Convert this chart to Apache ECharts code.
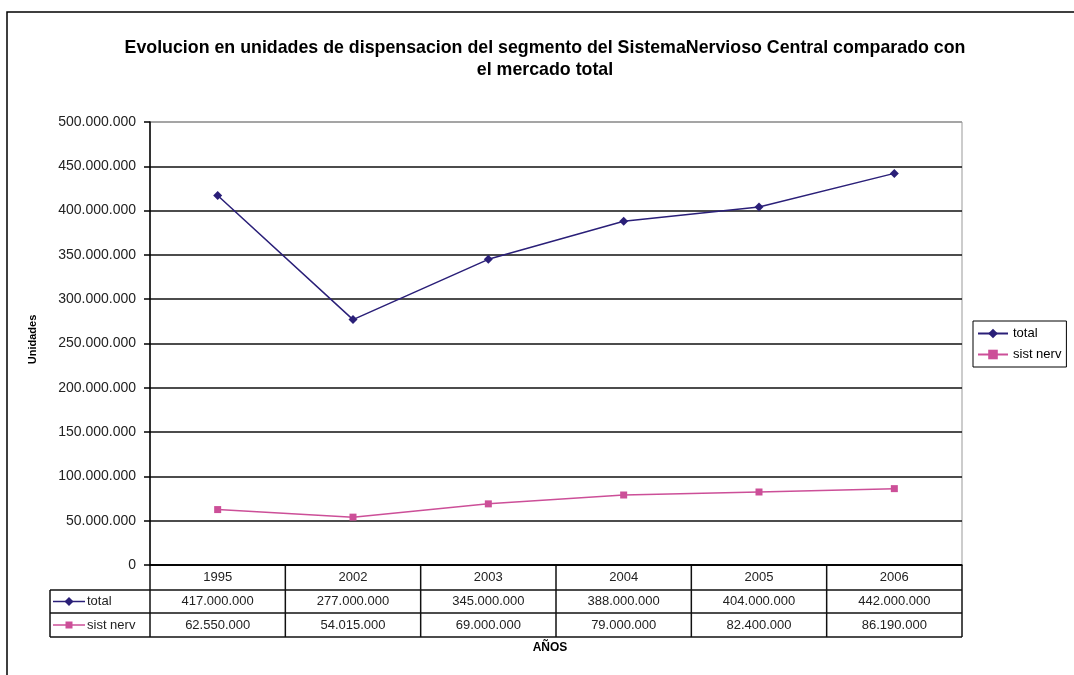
<!DOCTYPE html>
<html><head><meta charset="utf-8">
<script src="https://cdn.jsdelivr.net/npm/echarts@6/dist/echarts.min.js"></script>
<style>html,body{margin:0;padding:0;background:#fff}#c{width:1074px;height:675px}</style>
</head><body><div id="c"></div>
<script>
const titleText = 'Evolucion en unidades de dispensacion del segmento del SistemaNervioso Central comparado con\nel mercado total';
const years = ['1995','2002','2003','2004','2005','2006'];
const totalValues = [417000000, 277000000, 345000000, 388000000, 404000000, 442000000];
const sistValues = [62550000, 54015000, 69000000, 79000000, 82400000, 86190000];
const seriesNames = ['total', 'sist nerv'];
const yTicks = {min: 0, max: 500000000, interval: 50000000};

const C_TOTAL = '#2a1f78';
const C_SIST = '#cc4f98';
const FONT = 'Liberation Sans, Arial, sans-serif';
const fmt = v => String(v).replace(/\B(?=(\d{3})+(?!\d))/g, '.');

const G = {left: 150, right: 112, top: 122, bottom: 110};
const nLines = Math.round((yTicks.max - yTicks.min) / yTicks.interval);
const splitColors = Array.from({length: nLines + 1}, (_, i) => i === nLines ? '#999' : '#111');
const chart = echarts.init(document.getElementById('c'));
chart.setOption({
  backgroundColor: '#fff',
  animation: false,
  title: {text: titleText, left: 540, top: 32, textAlign: 'center',
    textStyle: {fontFamily: FONT, fontSize: 17.8, fontWeight: 'bold', color: '#000', lineHeight: 22}},
  legend: {orient: 'vertical', left: 973, top: 321, data: seriesNames,
    borderColor: '#000', borderWidth: 1, padding: [6, 5, 6, 4], itemGap: 8,
    itemWidth: 30, itemHeight: 12,
    textStyle: {fontFamily: FONT, fontSize: 13, color: '#000'}},
  grid: {left: G.left, right: G.right, top: G.top, bottom: G.bottom, show: true,
    borderColor: '#999', borderWidth: 1},
  xAxis: {type: 'category', data: years, boundaryGap: true,
    axisLine: {lineStyle: {color: '#000', width: 1.5}},
    axisTick: {show: false}, axisLabel: {show: false}},
  yAxis: {type: 'value', min: yTicks.min, max: yTicks.max, interval: yTicks.interval,
    name: 'Unidades', nameLocation: 'middle', nameGap: 112, nameRotate: 90,
    nameTextStyle: {fontFamily: FONT, fontSize: 11, fontWeight: 'bold', color: '#000', padding: [0, 0, 0, 8]},
    axisLine: {show: true, lineStyle: {color: '#000', width: 1.5}},
    axisTick: {show: true, length: 6, lineStyle: {color: '#000', width: 1.5}},
    axisLabel: {formatter: v => fmt(v), fontFamily: FONT, fontSize: 14, color: '#222', margin: 14},
    splitLine: {lineStyle: {color: splitColors, width: 1.5}}},
  series: [
    {name: seriesNames[0], type: 'line', data: totalValues, symbol: 'diamond', symbolSize: 9,
      lineStyle: {color: C_TOTAL, width: 1.5}, itemStyle: {color: C_TOTAL}},
    {name: seriesNames[1], type: 'line', data: sistValues, symbol: 'rect', symbolSize: 7,
      lineStyle: {color: C_SIST, width: 1.5}, itemStyle: {color: C_SIST}}
  ]
});

// Data table below the axis
const rowTop = [565, 590, 613, 637];
const leftCol = 50;
const half = (chart.convertToPixel({xAxisIndex: 0}, 1) - chart.convertToPixel({xAxisIndex: 0}, 0)) / 2;
const xStart = chart.convertToPixel({xAxisIndex: 0}, 0) - half;
const xEnd = chart.convertToPixel({xAxisIndex: 0}, years.length - 1) + half;
const els = [];
const ls = {stroke: '#111', lineWidth: 1.5};
els.push({type: 'line', shape: {x1: xStart, y1: rowTop[0], x2: xEnd, y2: rowTop[0]}, style: ls});
for (let r = 1; r < 4; r++) els.push({type: 'line', shape: {x1: leftCol, y1: rowTop[r], x2: xEnd, y2: rowTop[r]}, style: ls});
els.push({type: 'line', shape: {x1: leftCol, y1: rowTop[1], x2: leftCol, y2: rowTop[3]}, style: ls});
for (let i = 0; i <= years.length; i++) {
  const x = xStart + i * 2 * half;
  els.push({type: 'line', shape: {x1: x, y1: rowTop[0], x2: x, y2: rowTop[3]}, style: ls});
}
const rows = [years, totalValues.map(fmt), sistValues.map(fmt)];
rows.forEach((row, r) => {
  const cy = (rowTop[r] + rowTop[r + 1]) / 2;
  row.forEach((t, i) => {
    els.push({type: 'text', x: chart.convertToPixel({xAxisIndex: 0}, i), y: cy,
      style: {text: t, fill: '#222', font: '13px ' + FONT, align: 'center', verticalAlign: 'middle'}});
  });
});
[[C_TOTAL, 'diamond', seriesNames[0]], [C_SIST, 'rect', seriesNames[1]]].forEach((k, j) => {
  const cy = (rowTop[j + 1] + rowTop[j + 2]) / 2;
  els.push({type: 'line', shape: {x1: leftCol + 3, y1: cy, x2: leftCol + 35, y2: cy}, style: {stroke: k[0], lineWidth: 1.5}});
  if (k[1] === 'diamond') {
    els.push({type: 'polygon', shape: {points: [[leftCol + 19, cy - 4.5], [leftCol + 23.5, cy], [leftCol + 19, cy + 4.5], [leftCol + 14.5, cy]]}, style: {fill: k[0]}});
  } else {
    els.push({type: 'rect', shape: {x: leftCol + 15.5, y: cy - 3.5, width: 7, height: 7}, style: {fill: k[0]}});
  }
  els.push({type: 'text', x: leftCol + 37, y: cy, style: {text: k[2], fill: '#222', font: '13px ' + FONT, align: 'left', verticalAlign: 'middle'}});
});
els.push({type: 'text', x: 550, y: 648, style: {text: 'AÑOS', fill: '#000', font: 'bold 12px ' + FONT, align: 'center', verticalAlign: 'middle'}});
els.push({type: 'polyline', shape: {points: [[7, 675], [7, 12], [1074, 12]]}, style: {stroke: '#000', lineWidth: 1.5, fill: null}});
chart.setOption({graphic: {elements: els}});
</script></body></html>
